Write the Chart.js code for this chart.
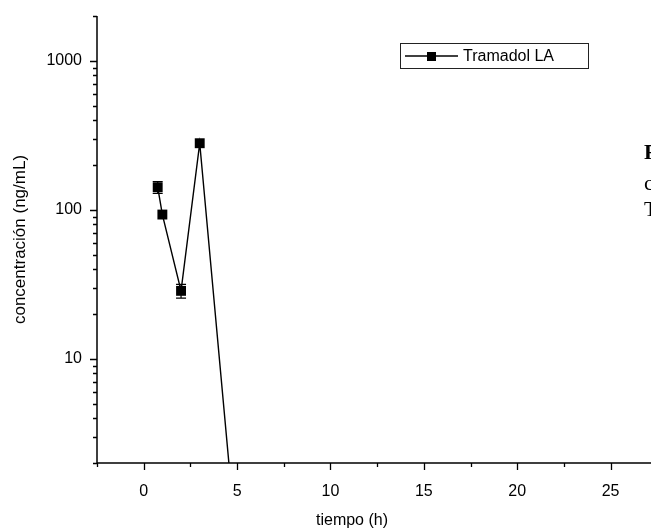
<!DOCTYPE html>
<html><head><meta charset="utf-8">
<script src="https://cdn.jsdelivr.net/npm/chart.js@4"></script>
<style>
html,body{margin:0;padding:0;background:#fff;overflow:hidden;}
#wrap{position:relative;width:651px;height:531px;overflow:hidden;background:#fff;}
canvas{position:absolute;left:0;top:0;}
.side{position:absolute;font-family:"Liberation Serif","Times New Roman",serif;font-size:22px;color:#000;white-space:nowrap;line-height:1;}
</style></head><body>
<div id="wrap">
<canvas id="c" width="720" height="531"></canvas>
<div class="side" style="left:644px;top:141px;font-weight:bold;">Figura</div>
<div class="side" style="left:644px;top:172px;">concentración</div>
<div class="side" style="left:644px;top:198px;">Tramadol</div>
</div>
<script>
// ---- data ----
const seriesLabel = 'Tramadol LA';
const times = [0.75, 1, 2, 3, 5];
const conc = [142, 93, 28.6, 280, 0.5];
const concErr = [13, 0, 3, 0, 0];
const xTickValues = [-2.5, 0, 2.5, 5, 7.5, 10, 12.5, 15, 17.5, 20, 22.5, 25, 27.5, 30];
const xTickLabels = ['0', '5', '10', '15', '20', '25'];
const yTickValues = [2, 3, 4, 5, 6, 7, 8, 9, 10, 20, 30, 40, 50, 60, 70, 80, 90, 100, 200, 300, 400, 500, 600, 700, 800, 900, 1000, 2000];
const yTickLabels = ['10', '100', '1000'];
const xTitle = 'tiempo (h)';
const yTitle = 'concentración (ng/mL)';

const FONT = '"Liberation Sans", Arial, sans-serif';

const axesPlugin = {
  id: 'axesPlugin',
  beforeDatasetsDraw(chart) {
    const ctx = chart.ctx, xs = chart.scales.x, ys = chart.scales.y, a = chart.chartArea;
    ctx.save();
    ctx.beginPath(); ctx.rect(a.left, a.top, a.right - a.left, a.bottom - a.top); ctx.clip();
    ctx.strokeStyle = '#000'; ctx.lineWidth = 1.2;
    times.forEach((t, i) => {
      const e = concErr[i];
      if (!e) return;
      const px = xs.getPixelForValue(t);
      const y1 = ys.getPixelForValue(conc[i] - e), y2 = ys.getPixelForValue(conc[i] + e);
      ctx.beginPath();
      ctx.moveTo(px, y1); ctx.lineTo(px, y2);
      ctx.moveTo(px - 5, y1); ctx.lineTo(px + 5, y1);
      ctx.moveTo(px - 5, y2); ctx.lineTo(px + 5, y2);
      ctx.stroke();
    });
    ctx.restore();
  },
  afterDraw(chart) {
    const ctx = chart.ctx, xs = chart.scales.x, ys = chart.scales.y, a = chart.chartArea;
    ctx.save();
    ctx.strokeStyle = '#000';
    ctx.lineWidth = 1.5;
    ctx.beginPath();
    ctx.moveTo(a.left, a.top); ctx.lineTo(a.left, a.bottom); ctx.lineTo(a.right, a.bottom);
    ctx.stroke();
    ctx.lineWidth = 1.3;
    ctx.beginPath();
    yTickValues.forEach(v => {
      const py = Math.round(ys.getPixelForValue(v)) + 0.5;
      const major = yTickLabels.includes(String(v));
      ctx.moveTo(a.left, py); ctx.lineTo(a.left - (major ? 7 : 4), py);
    });
    xTickValues.forEach(v => {
      const px = Math.round(xs.getPixelForValue(v)) + 0.5;
      const major = v % 5 === 0;
      ctx.moveTo(px, a.bottom); ctx.lineTo(px, a.bottom + (major ? 7 : 4));
    });
    ctx.stroke();

    // x axis title
    ctx.fillStyle = '#000';
    ctx.font = '16px ' + FONT;
    ctx.textAlign = 'center';
    ctx.textBaseline = 'middle';
    ctx.fillText(xTitle, 352, 521);

    // legend
    ctx.lineWidth = 1;
    ctx.strokeStyle = '#222';
    ctx.strokeRect(400.5, 43.5, 188, 25);
    ctx.strokeStyle = '#000';
    ctx.lineWidth = 1.3;
    ctx.beginPath(); ctx.moveTo(405, 56); ctx.lineTo(458, 56); ctx.stroke();
    ctx.fillRect(427, 52, 9, 9);
    ctx.font = '16px ' + FONT;
    ctx.textAlign = 'left';
    ctx.fillText(seriesLabel, 463, 56.5);
    ctx.restore();
  }
};

new Chart(document.getElementById('c').getContext('2d'), {
  type: 'line',
  data: {
    datasets: [{
      label: seriesLabel,
      data: times.map((t, i) => ({ x: t, y: conc[i] })),
      borderColor: '#000',
      backgroundColor: '#000',
      borderWidth: 1.4,
      pointStyle: 'rect',
      pointRadius: 7,
      pointHoverRadius: 7,
      pointBorderWidth: 0,
      tension: 0,
      fill: false
    }]
  },
  options: {
    responsive: false,
    animation: false,
    devicePixelRatio: 1,
    layout: { padding: { top: 16, right: 16, left: 0, bottom: 0 } },
    plugins: { legend: { display: false }, tooltip: { enabled: false } },
    scales: {
      x: {
        type: 'linear', min: -2.5, max: 30,
        afterBuildTicks(s) { s.ticks = xTickValues.map(v => ({ value: v })); },
        afterFit(s) { s.height = 68; s.paddingLeft = 0; s.paddingRight = 0; },
        grid: { display: false, drawTicks: false },
        border: { display: false },
        ticks: {
          autoSkip: false, maxRotation: 0, padding: 19, color: '#000',
          font: { family: FONT, size: 16 },
          callback: v => (xTickLabels.includes(String(v)) ? String(v) : '')
        },
        title: { display: false }
      },
      y: {
        type: 'logarithmic', min: 2, max: 2000,
        afterBuildTicks(s) { s.ticks = yTickValues.map(v => ({ value: v })); },
        afterFit(s) { s.width = 97; s.paddingTop = 0; s.paddingBottom = 0; },
        grid: { display: false, drawTicks: false },
        border: { display: false },
        ticks: {
          autoSkip: false, padding: 15, color: '#000',
          font: { family: FONT, size: 16 },
          callback: v => (yTickLabels.includes(String(v)) ? String(v) : '')
        },
        title: { display: true, text: yTitle, color: '#000', font: { family: FONT, size: 17 }, padding: { top: 10, bottom: 0 } }
      }
    }
  },
  plugins: [axesPlugin]
});
</script>
</body></html>
